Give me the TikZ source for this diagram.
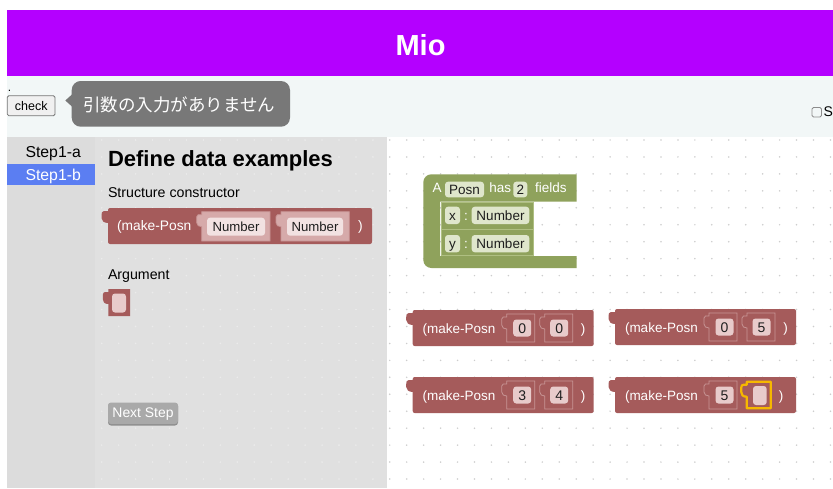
\documentclass[tikz,border=0pt]{standalone}
\usepackage{fontspec}
\setmainfont{Liberation Sans}
\newfontfamily\jpfont{Noto Sans CJK JP}

\definecolor{banner}{HTML}{B400FF}
\definecolor{strip}{HTML}{F2F7F7}
\definecolor{sidebar}{HTML}{DCDCDC}
\definecolor{panel}{HTML}{E0E0E0}
\definecolor{pdot}{HTML}{EBEBEB}
\definecolor{wdot}{HTML}{CDCDCD}
\definecolor{tip}{HTML}{787878}
\definecolor{stepsel}{HTML}{5B7EF2}
\definecolor{blockred}{HTML}{A55B5B}
\definecolor{slotline}{HTML}{C79494}
\definecolor{slotfill}{HTML}{D6AAAA}
\definecolor{pillred}{HTML}{E8CBCB}
\definecolor{pilllight}{HTML}{F2E2E2}
\definecolor{blockgreen}{HTML}{8FA25C}
\definecolor{greenline}{HTML}{AFBF82}
\definecolor{pillgreen}{HTML}{DFE6CC}
\definecolor{selyellow}{HTML}{F6B800}
\definecolor{btngray}{HTML}{A9A9A9}
\definecolor{btnshade}{HTML}{8E8E8E}
\definecolor{pilltxt}{HTML}{1E1E1E}

\newcommand\fsz[1]{\fontsize{#1}{#1}\selectfont}

% output tab on the left edge of a block: colour, left edge, top edge
\newcommand\outtab[3]{%
  \fill[#1] ({#2+0.5},{#3+3}) -- ({#2-4},{#3+3})
    .. controls ({#2-6},{#3+3}) and ({#2-6.5},{#3+5}) .. ({#2-6.5},{#3+7})
    -- ({#2-6.5},{#3+10})
    .. controls ({#2-6.5},{#3+13}) and ({#2-4},{#3+15}) .. ({#2+0.5},{#3+15}) -- cycle;}

% value input socket: left, top, right, bottom, fill, outline
\newcommand\inslot[6]{%
  \filldraw[fill=#5,draw=#6,line width=0.8pt]
    (#1,#2) -- (#3,#2) -- (#3,#4) -- (#1,#4) -- ({#1},{#2+15})
    -- ({#1-3.5},{#2+14}) -- ({#1-5},{#2+11}) -- ({#1-5},{#2+5})
    -- ({#1-3.5},{#2+3}) -- ({#1},{#2+3}) -- cycle;}

% rounded field with its text: name, left, top, right, bottom, fill, size, text
\newcommand\pilltext[8]{%
  \fill[#6,rounded corners=3pt] (#2,#3) rectangle (#4,#5);
  \node[ctxt,text=pilltxt,font=\fsz{#7}] (#1) at ({(#2+#4)/2},{(#3+#5)/2+0.36*#7}) {#8};}

% small argument block outline (tab + body): left, top, right, bottom
\newcommand\argpath[4]{%
  (#1,#2) -- (#3,#2) -- (#3,#4) -- (#1,#4) -- ({#1},{#2+15})
  .. controls ({#1-4},{#2+15}) and ({#1-5.5},{#2+13}) .. ({#1-5.5},{#2+10})
  -- ({#1-5.5},{#2+6})
  .. controls ({#1-5.5},{#2+4}) and ({#1-4.5},{#2+3}) .. ({#1-3},{#2+3})
  -- ({#1},{#2+3}) -- cycle}

% make-Posn block body with its first field: name, left, top, value
\newcommand\posnbody[4]{%
  \outtab{blockred}{#2}{#3}
  \fill[blockred,rounded corners=2pt] (#2,#3) rectangle ({#2+181},{#3+36});
  \node[txt,text=white,font=\fsz{13.5}] (#1-fn) at ({#2+10},{#3+23.2}) {(make-Posn};
  \inslot{#2+94}{#3+4}{#2+122}{#3+32}{blockred}{slotline}
  \pilltext{#1-a}{#2+100.5}{#3+9.5}{#2+118.5}{#3+26.5}{pillred}{14}{#4}}

% complete make-Posn block with two values: name, left, top, value1, value2
\newcommand\posnblock[5]{%
  \posnbody{#1}{#2}{#3}{#4}
  \inslot{#2+132}{#3+4}{#2+160}{#3+32}{blockred}{slotline}
  \pilltext{#1-b}{#2+137.5}{#3+9.5}{#2+155.5}{#3+26.5}{pillred}{14}{#5}
  \node[ctxt,text=white,font=\fsz{13.5}] (#1-close) at ({#2+170.5},{#3+23.2}) {)};}

\begin{document}
\begin{tikzpicture}[x=1pt,y=-1pt,
  txt/.style={inner sep=0pt,outer sep=0pt,anchor=base west},
  ctxt/.style={inner sep=0pt,outer sep=0pt,anchor=base}]
\useasboundingbox (0,0) rectangle (833,488);
\fill[white] (0,0) rectangle (833,488);

% header bar
\fill[banner] (7,10) rectangle (833,76);
\node[ctxt,text=white,font=\bfseries\fsz{29}] (title) at (420.5,55) {Mio};

% toolbar strip
\fill[strip] (7,76) rectangle (833,137);
\node[txt,font=\fsz{12}] (dot) at (8,91) {.};
\filldraw[fill=black!6,draw=black!54,line width=0.8pt,rounded corners=1.5pt] (7.3,95.7) rectangle (55,115.7);
\node[ctxt,font=\fsz{12.5}] (check) at (31.2,110) {check};
\fill[tip,rounded corners=9pt] (71.7,81) rectangle (290,126.7);
\fill[tip] (72.5,94) -- (65.3,100.5) -- (72.5,107) -- cycle;
\node[txt,text=white,font=\jpfont\fsz{17.5}] (msg) at (83.3,111.2) {引数の入力がありません};
\draw[black!45,line width=0.8pt,rounded corners=1.5pt] (812,107.5) rectangle (821.5,117);
\node[txt,font=\fsz{14}] (s) at (823.5,116.7) {S};

% sidebar with steps
\fill[sidebar] (7,137) rectangle (95,488);
\fill[stepsel] (7,164) rectangle (95,185);
\node[txt,font=\fsz{15.8}] (stepa) at (25.5,157) {Step1-a};
\node[txt,text=white,font=\fsz{15.8}] (stepb) at (25.5,180) {Step1-b};

% instruction panel
\fill[panel] (95,137) rectangle (387,488);
\foreach \i in {0,...,16}
  \foreach \j in {0,...,20}
    \fill[pdot] ({101.7+16.95*\i},{140+16.95*\j}) circle (0.9);

% workspace grid
\foreach \i in {0,...,26}
  \foreach \j in {0,...,20}
    \fill[wdot] ({389.75+16.95*\i},{140+16.95*\j}) circle (0.85);

\node[txt,font=\bfseries\fsz{22}] (head) at (108,166) {Define data examples};
\node[txt,font=\fsz{14.2}] (lblcons) at (108,197.7) {Structure constructor};

% constructor block in the panel
\outtab{blockred}{108}{208}
\fill[blockred,rounded corners=2pt] (108,208) rectangle (372,244);
\node[txt,text=white,font=\fsz{13.8}] (tfn) at (117,230.5) {(make-Posn};
\inslot{201.7}{211.7}{270}{241}{slotfill}{slotline}
\pilltext{tnum1}{207}{217.7}{265}{235.7}{pilllight}{13.2}{Number}
\inslot{281}{211.7}{349.3}{241}{slotfill}{slotline}
\pilltext{tnum2}{287}{217.7}{343}{235.7}{pilllight}{13.2}{Number}
\node[ctxt,text=white,font=\fsz{13.8}] (tclose) at (360.5,230.5) {)};

\node[txt,font=\fsz{14.2}] (lblarg) at (108,279.3) {Argument};
\fill[blockred] \argpath{108.3}{289}{130}{316};
\fill[pillred,rounded corners=3pt] (112,293.5) rectangle (126,312.5);

% next-step button
\fill[btnshade,rounded corners=3pt] (108,403) rectangle (178,425.5);
\fill[btngray,rounded corners=3pt] (108,402.5) rectangle (178,424);
\node[ctxt,text=white,font=\fsz{13.9}] (next) at (143,417.5) {Next Step};

% structure definition block
\fill[blockgreen] (576.7,174.3) -- (431.3,174.3)
  .. controls (426.9,174.3) and (423.3,177.9) .. (423.3,182.3)
  -- (423.3,260) .. controls (423.3,264.4) and (426.9,268) .. (431.3,268)
  -- (576.7,268) -- (576.7,256) -- (440,256) -- (440,201.7) -- (576.7,201.7) -- cycle;
\node[txt,text=white,font=\fsz{13.5}] (ga) at (432.5,192.3) {A};
\pilltext{gposn}{445}{181.7}{484}{197.3}{pillgreen}{13.5}{Posn}
\node[txt,text=white,font=\fsz{13.5}] (ghas) at (489.3,192.3) {has};
\pilltext{gtwo}{513.3}{181.7}{527.3}{197.3}{pillgreen}{13.5}{2}
\node[txt,text=white,font=\fsz{13.5}] (gfields) at (535,192.3) {fields};
\filldraw[fill=blockgreen,draw=greenline,line width=0.8pt] (441,202.2) rectangle (533,229);
\filldraw[fill=blockgreen,draw=greenline,line width=0.8pt] (441,229) rectangle (533,255.8);
\pilltext{gx}{445}{206.7}{460}{224}{pillgreen}{13.5}{x}
\node[ctxt,text=white,font=\fsz{13.5}] (gc1) at (466,220) {:};
\pilltext{gxt}{471.7}{206.7}{529.3}{224}{pillgreen}{13.5}{Number}
\pilltext{gy}{445}{235}{460}{252.3}{pillgreen}{13.5}{y}
\node[ctxt,text=white,font=\fsz{13.5}] (gc2) at (466,248.3) {:};
\pilltext{gyt}{471.7}{235}{529.3}{252.3}{pillgreen}{13.5}{Number}

% example blocks
\posnblock{ex1}{412.7}{310}{0}{0}
\posnblock{ex2}{615}{309}{0}{5}
\posnblock{ex3}{412.7}{377}{3}{4}
\posnbody{ex4}{615}{377}{5}
\filldraw[fill=blockred,draw=selyellow,line width=2.2pt,line join=round] \argpath{746.7}{381.7}{770.7}{408.3};
\fill[pillred,rounded corners=3pt] (753,386) rectangle (766.7,405);
\node[ctxt,text=white,font=\fsz{13.5}] (ex4-close) at (781,400.2) {)};
\end{tikzpicture}
\end{document}
